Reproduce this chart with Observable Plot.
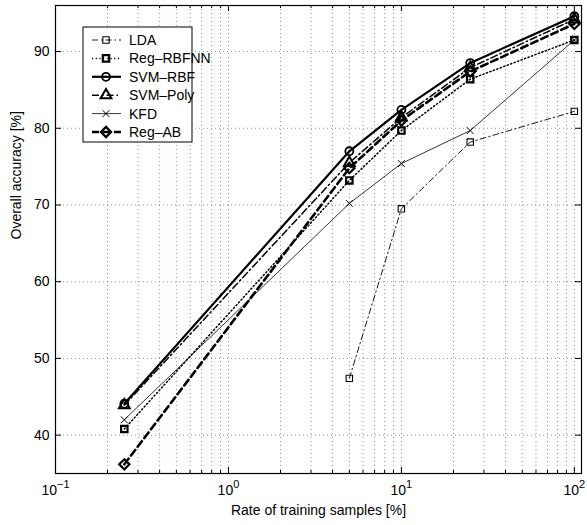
<!DOCTYPE html>
<html>
<head>
<meta charset="utf-8">
<script src="https://cdn.jsdelivr.net/npm/d3@7"></script>
<script src="https://cdn.jsdelivr.net/npm/@observablehq/plot@0.6"></script>
<style>
  body { margin: 0; background: #fff; }
  #chart { width: 587px; height: 525px; }
</style>
</head>
<body>
<div id="chart"></div>
<script>
// ---- data ----
const xValues = [0.25, 5, 10, 25, 100];
const seriesNames = ["LDA", "Reg–RBFNN", "SVM–RBF", "SVM–Poly", "KFD", "Reg–AB"];
const ldaValues      = [null, 47.4, 69.5, 78.2, 82.2];
const regRbfnnValues = [40.8, 73.2, 79.7, 86.4, 91.5];
const svmRbfValues   = [44.1, 77.0, 82.4, 88.5, 94.6];
const svmPolyValues  = [43.9, 75.5, 81.4, 87.9, 94.2];
const kfdValues      = [42.0, 70.2, 75.4, 79.7, 91.5];
const regAbValues    = [36.2, 74.8, 81.0, 87.4, 93.6];
const yTickValues = [40, 50, 60, 70, 80, 90];
const xMajorTicks = [0.1, 1, 10, 100];
const xMinorTicks = [0.2,0.3,0.4,0.5,0.6,0.7,0.8,0.9, 2,3,4,5,6,7,8,9, 20,30,40,50,60,70,80,90];
const xLabel = "Rate of training samples [%]";
const yLabel = "Overall accuracy [%]";

// ---- styles ----
const styles = {
  "LDA":       {symbol: "square",   r: 3.6, sw: 0.9, msw: 1.1, dash: "6,3,1.5,3"},
  "Reg–RBFNN": {symbol: "square",   r: 3.6, sw: 1.5, msw: 2.2, dash: "1.2,2.5"},
  "SVM–RBF":   {symbol: "circle",   r: 4.0, sw: 2.2, msw: 1.8, dash: null},
  "SVM–Poly":  {symbol: "triangle", r: 4.0, sw: 1.5, msw: 2.0, dash: "7,3,1.5,3"},
  "KFD":       {symbol: "times",    r: 3.2, sw: 0.8, msw: 1.0, dash: null},
  "Reg–AB":    {symbol: "diamond2", r: 4.6, sw: 2.6, msw: 2.2, dash: "7,4"}
};

const allValues = [ldaValues, regRbfnnValues, svmRbfValues, svmPolyValues, kfdValues, regAbValues];
const table = [];
seriesNames.forEach((name, i) => {
  allValues[i].forEach((v, j) => {
    if (v != null) table.push({series: name, x: xValues[j], y: v});
  });
});

const W = 587, H = 525;
const mt = 5, mr = 6, mb = 52, ml = 55;
const innerW = W - ml - mr, innerH = H - mt - mb;
const font = "'Liberation Sans', Arial, Helvetica, sans-serif";

const seriesMarks = [];
seriesNames.forEach(name => {
  const s = styles[name];
  const d = table.filter(r => r.series === name);
  seriesMarks.push(Plot.line(d, {x: "x", y: "y", stroke: "#000", strokeWidth: s.sw,
    strokeDasharray: s.dash || undefined, strokeLinejoin: "round"}));
});
seriesNames.forEach(name => {
  const s = styles[name];
  const d = table.filter(r => r.series === name);
  seriesMarks.push(Plot.dot(d, {x: "x", y: "y", symbol: () => s.symbol, r: s.r, stroke: "#000",
    strokeWidth: s.msw, fill: "none"}));
});

const plot = Plot.plot({
  width: W, height: H,
  marginTop: mt, marginRight: mr, marginBottom: mb, marginLeft: ml,
  x: {type: "log", domain: [0.1, 110], axis: null},
  y: {domain: [35, 96], axis: null},
  symbol: {type: "identity"},
  style: {fontFamily: font, fontSize: "13px", color: "#000", background: "#fff", overflow: "visible"},
  marks: [
    Plot.ruleX(xMinorTicks.concat(xMajorTicks.slice(1)), {stroke: "#777", strokeWidth: 0.8, strokeDasharray: "1,3"}),
    Plot.ruleY(yTickValues, {stroke: "#777", strokeWidth: 0.8, strokeDasharray: "1,3"}),
    // inward ticks
    Plot.ruleX(xMajorTicks, {stroke: "#000", insetTop: innerH - 6}),
    Plot.ruleX(xMajorTicks, {stroke: "#000", insetBottom: innerH - 6}),
    Plot.ruleX(xMinorTicks, {stroke: "#000", insetTop: innerH - 3}),
    Plot.ruleX(xMinorTicks, {stroke: "#000", insetBottom: innerH - 3}),
    Plot.ruleY(yTickValues, {stroke: "#000", insetRight: innerW - 6}),
    Plot.ruleY(yTickValues, {stroke: "#000", insetLeft: innerW - 6}),
    Plot.frame({stroke: "#000", strokeWidth: 1.2}),
    // tick labels
    Plot.text(xMajorTicks, {x: d => d, text: d => "10^" + Math.round(Math.log10(d)), frameAnchor: "bottom",
      dy: 21, fontSize: 14}),
    Plot.text(yTickValues, {y: d => d, text: d => String(d), frameAnchor: "left", textAnchor: "end",
      dx: -6, fontSize: 14}),
    Plot.text([xLabel], {text: d => d, frameAnchor: "bottom", dy: 41, fontSize: 14}),
    Plot.text([yLabel], {text: d => d, frameAnchor: "left", rotate: -90, dx: -39, fontSize: 14}),
    ...seriesMarks
  ]
});

document.getElementById("chart").appendChild(plot);
const svg = d3.select(plot.tagName.toLowerCase() === "svg" ? plot : plot.querySelector("svg"));

// superscript exponents for x tick labels
svg.selectAll("text").each(function() {
  const c = this.textContent;
  if (!c.startsWith("10^")) return;
  const e = c.slice(3);
  const t = d3.select(this);
  t.text("");
  t.append("tspan").text("10");
  t.append("tspan").attr("dy", "-0.55em").attr("font-size", "11px")
    .text(e.startsWith("-") ? "−" + e.slice(1) : e);
});

// legend
const lg = svg.append("g").attr("font-family", font).attr("font-size", "14px").attr("text-anchor", "start");
const lx = 83, ly = 27, lw = 109, lh = 115, rowH = 18.4, row0 = 40;
lg.append("rect").attr("x", lx).attr("y", ly).attr("width", lw).attr("height", lh)
  .attr("fill", "#fff").attr("stroke", "#000").attr("stroke-width", 1);
const symGen = {square: d3.symbolSquare, circle: d3.symbolCircle, triangle: d3.symbolTriangle,
  times: d3.symbolTimes, diamond2: d3.symbolDiamond2};
seriesNames.forEach((name, i) => {
  const s = styles[name];
  const cy = row0 + i * rowH;
  lg.append("line").attr("x1", 92).attr("x2", 121).attr("y1", cy).attr("y2", cy)
    .attr("stroke", "#000").attr("stroke-width", s.sw)
    .attr("stroke-dasharray", s.dash || null);
  lg.append("path").attr("transform", `translate(106,${cy})`)
    .attr("d", d3.symbol(symGen[s.symbol], Math.PI * s.r * s.r)())
    .attr("fill", "none").attr("stroke", "#000").attr("stroke-width", s.msw);
  lg.append("text").attr("x", 129).attr("y", cy + 5).attr("text-anchor", "start").text(name);
});
</script>
</body>
</html>
